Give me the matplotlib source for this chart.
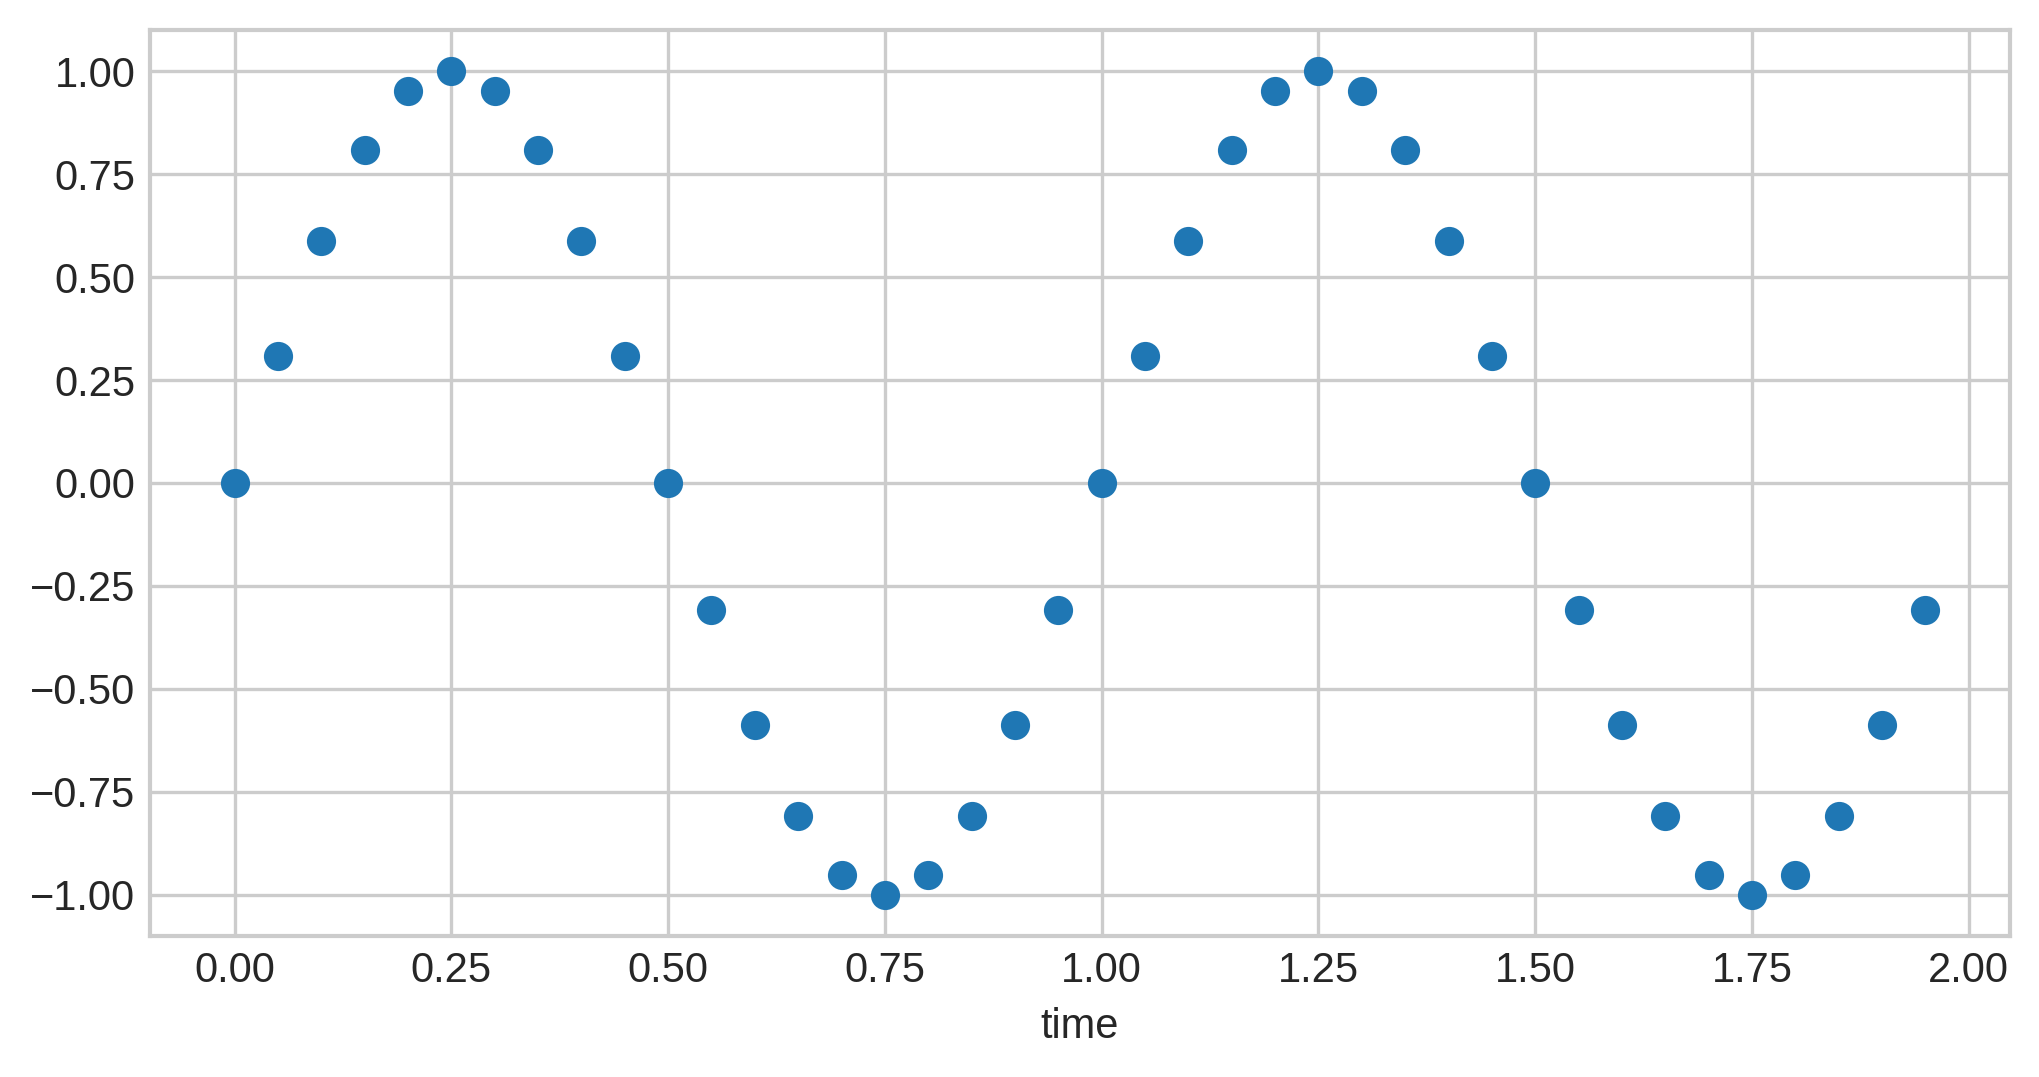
import matplotlib
matplotlib.use("Agg")
import matplotlib.pyplot as plt

time = [0.00, 0.05, 0.10, 0.15, 0.20, 0.25, 0.30, 0.35, 0.40, 0.45,
        0.50, 0.55, 0.60, 0.65, 0.70, 0.75, 0.80, 0.85, 0.90, 0.95,
        1.00, 1.05, 1.10, 1.15, 1.20, 1.25, 1.30, 1.35, 1.40, 1.45,
        1.50, 1.55, 1.60, 1.65, 1.70, 1.75, 1.80, 1.85, 1.90, 1.95]
values = [0.000, 0.309, 0.588, 0.809, 0.951, 1.000, 0.951, 0.809, 0.588, 0.309,
          0.000, -0.309, -0.588, -0.809, -0.951, -1.000, -0.951, -0.809, -0.588, -0.309,
          0.000, 0.309, 0.588, 0.809, 0.951, 1.000, 0.951, 0.809, 0.588, 0.309,
          0.000, -0.309, -0.588, -0.809, -0.951, -1.000, -0.951, -0.809, -0.588, -0.309]
xlabel = "time"

plt.style.use("seaborn-v0_8-whitegrid")
plt.rcParams['font.family'] = ['Liberation Sans', 'DejaVu Sans']

dpi = 300
fig = plt.figure(figsize=(2039 / dpi, 1077 / dpi), dpi=dpi)
ax = fig.add_axes([150 / 2039, 1 - 936 / 1077, (2010 - 150) / 2039, (936 - 30) / 1077])
ax.scatter(time, values, color='#1f77b4')
ax.set_xlabel(xlabel, fontsize=10, color='#262626')
ax.tick_params(labelsize=10, colors='#262626')
for s in ax.spines.values():
    s.set_visible(True)
    s.set_color('#cccccc')
fig.savefig("out.png", dpi=dpi)
